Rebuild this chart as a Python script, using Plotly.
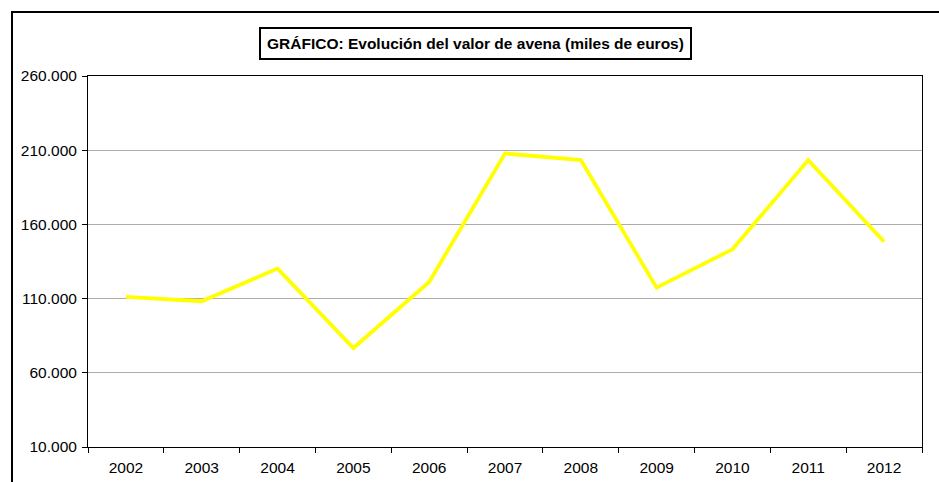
import plotly.graph_objects as go

years = ["2002", "2003", "2004", "2005", "2006", "2007", "2008", "2009", "2010", "2011", "2012"]
values = [111100, 108200, 130200, 76700, 121200, 207800, 203300, 117400, 143200, 203300, 148300]
title_text = "<b>GRÁFICO: Evolución del valor de avena (miles de euros)</b>"

W, H = 939, 482
L, R, T, B = 88, 922, 76, 447

def px(x):
    return (x - L) / (R - L)

def py(y):
    return (B - y) / (B - T)

fig = go.Figure()
fig.add_trace(go.Scatter(x=years, y=values, mode="lines",
                         line=dict(color="#FFFF00", width=3.8), showlegend=False,
                         hoverinfo="skip"))

fig.update_layout(
    width=W, height=H,
    margin=dict(l=L, r=W - R, t=T, b=H - B, pad=0, autoexpand=False),
    paper_bgcolor="white", plot_bgcolor="white",
    separators=",.",
    font=dict(family="Liberation Sans, Arial", size=15.5, color="black"),
    xaxis=dict(type="category", range=[-0.5, 10.5], showline=True, linecolor="black",
               linewidth=1, mirror=True, ticks="outside", tickson="boundaries",
               ticklen=5, tickcolor="black", showgrid=False, zeroline=False,
               automargin=False, ticklabelstandoff=6, tickfont=dict(size=15.5)),
    yaxis=dict(range=[10000, 260000], tick0=10000, dtick=50000, tickformat=",d",
               showline=True, linecolor="black", linewidth=1, mirror=True,
               ticks="outside", ticklen=5, tickcolor="black", ticklabelstandoff=2,
               showgrid=True, gridcolor="#acacac", gridwidth=1, zeroline=False,
               automargin=False, tickfont=dict(size=15.5)),
    shapes=[dict(type="rect", xref="paper", yref="paper",
                 x0=px(12), x1=px(960), y0=py(520), y1=py(12),
                 line=dict(color="black", width=2), fillcolor="rgba(0,0,0,0)", layer="below")],
    annotations=[dict(text=title_text, xref="paper", yref="paper",
                      x=px(475), y=py(43.5), xanchor="center", yanchor="middle",
                      showarrow=False, font=dict(size=15.5, color="black"),
                      bordercolor="black", borderwidth=2, borderpad=6, bgcolor="white")],
)

fig.write_html("out.html", config={"displayModeBar": False},
               post_script="document.body.style.margin='0';document.documentElement.style.overflow='hidden';")
